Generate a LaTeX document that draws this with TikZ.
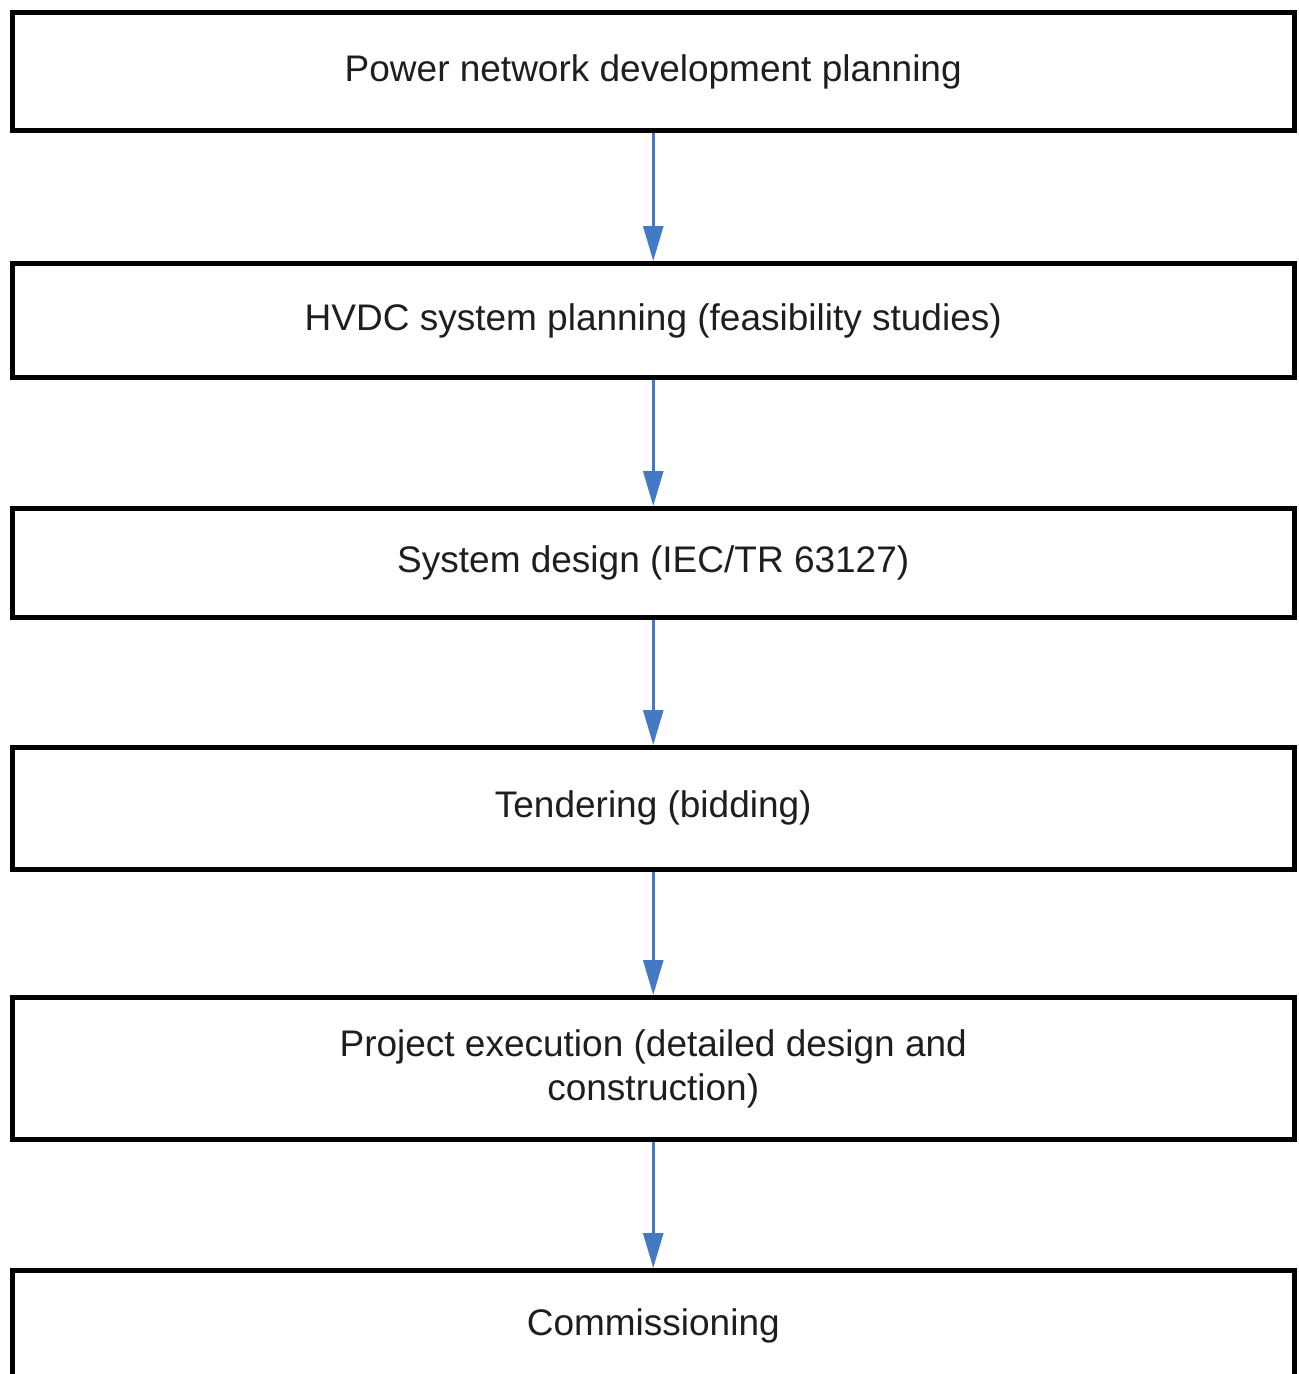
\documentclass[tikz,border=0pt]{standalone}
\usepackage{fontspec}
\setmainfont{Liberation Sans}
\usetikzlibrary{arrows.meta}
\definecolor{arrowblue}{HTML}{4479C4}
\definecolor{textgrey}{HTML}{1E1E1E}
\tikzset{
  stepbox/.style={draw=black, line width=5pt, rectangle, minimum width=1282.5pt,
    inner sep=0pt, align=center, text=textgrey,
    font=\fontsize{37}{44}\selectfont},
  flowarrow/.style={draw=arrowblue, line width=2.6pt,
    -{Triangle[length=35pt,width=20pt,fill=arrowblue]}}
}
\begin{document}
\begin{tikzpicture}[x=1pt,y=-1pt]
\useasboundingbox (0,0) rectangle (1299,1374);
\clip (0,0) rectangle (1299,1374);
\node[stepbox, minimum height=118pt] (n1) at (653.25,71.5) {Power network development planning};
\node[stepbox, minimum height=114pt] (n2) at (653.25,320.5) {HVDC system planning (feasibility studies)};
\node[stepbox, minimum height=108.5pt] (n3) at (653.25,562.75) {System design (IEC/TR 63127)};
\node[stepbox, minimum height=121.5pt] (n4) at (653.25,808.25) {Tendering (bidding)};
\node[stepbox, minimum height=142pt] (n5) at (653.25,1068.5) {Project execution (detailed design and\\construction)};
\node[stepbox, minimum height=111pt] (n6) at (653.25,1326) {Commissioning};
\draw[flowarrow] (n1.south) -- (n2.north);
\draw[flowarrow] (n2.south) -- (n3.north);
\draw[flowarrow] (n3.south) -- (n4.north);
\draw[flowarrow] (n4.south) -- (n5.north);
\draw[flowarrow] (n5.south) -- (n6.north);
\end{tikzpicture}
\end{document}
